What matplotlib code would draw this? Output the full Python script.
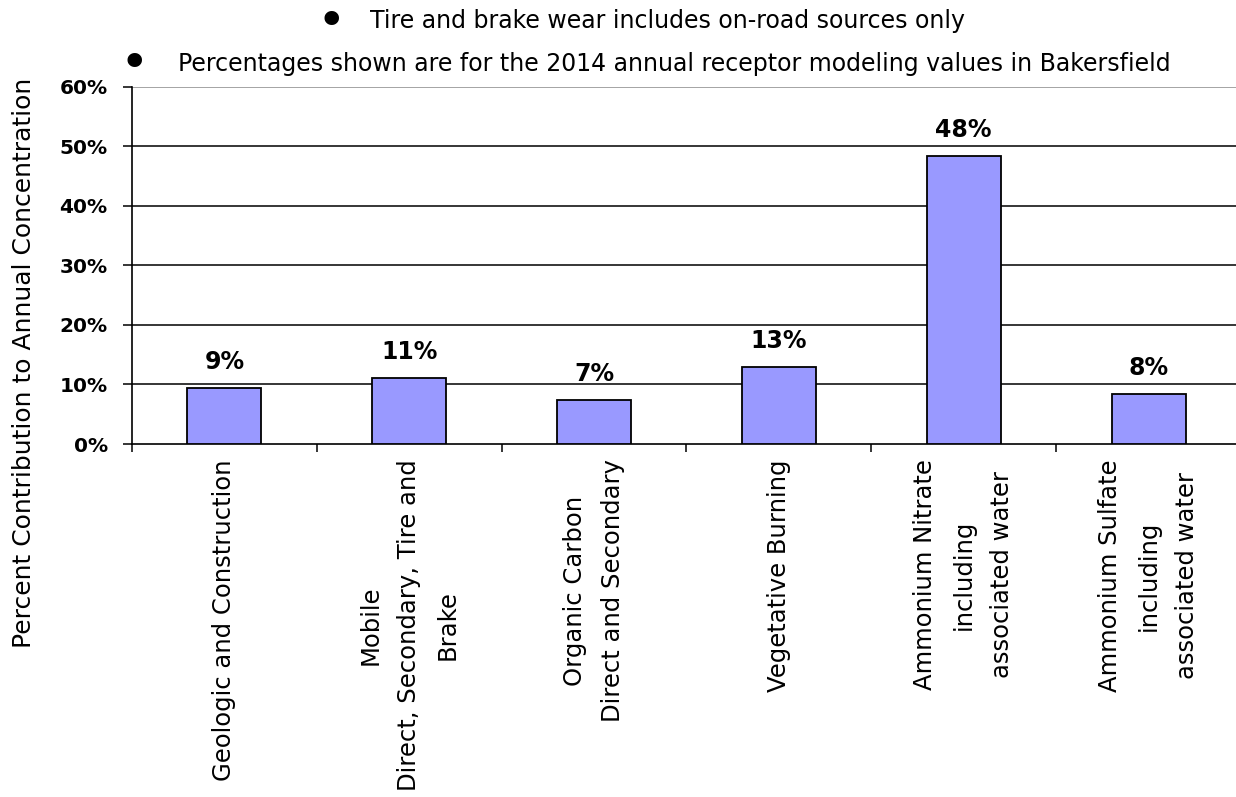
import matplotlib
matplotlib.use("Agg")
import matplotlib.pyplot as plt
import numpy as np

categories = [
    "Geologic and Construction",
    "Mobile\nDirect, Secondary, Tire and\nBrake",
    "Organic Carbon\nDirect and Secondary",
    "Vegetative Burning",
    "Ammonium Nitrate\nincluding\nassociated water",
    "Ammonium Sulfate\nincluding\nassociated water",
]
values = [9.4, 11.0, 7.4, 12.9, 48.4, 8.4]
value_labels = ["9%", "11%", "7%", "13%", "48%", "8%"]
y_ticks = [0, 10, 20, 30, 40, 50, 60]
y_tick_labels = ["0%", "10%", "20%", "30%", "40%", "50%", "60%"]
notes = [
    "Tire and brake wear includes on-road sources only",
    "Percentages shown are for the 2014 annual receptor modeling values in Bakersfield",
]
y_label = "Percent Contribution to Annual Concentration"

plt.rcParams['font.family'] = ['DejaVu Sans']

W, H = 1236, 797
fig = plt.figure(figsize=(W / 100, H / 100), dpi=100)
ax_left = 132 / W
ax_right = 1241 / W
ax_bottom = (H - 444) / H
ax_top = (H - 86.7) / H
ax = fig.add_axes([ax_left, ax_bottom, ax_right - ax_left, ax_top - ax_bottom])

x = np.arange(len(categories))
ax.bar(x, values, width=0.40, color="#9999FF", edgecolor="black", linewidth=1.3, zorder=3)

for xi, v, lab in zip(x, values, value_labels):
    ax.annotate(lab, (xi, v), xytext=(0, 19), textcoords="offset pixels",
                ha="center", va="baseline", fontsize=17, fontweight="bold", zorder=4)

ax.set_xlim(-0.5, len(categories) - 0.5)
ax.set_ylim(0, 60)

# gridlines
for t in y_ticks[1:]:
    ax.axhline(t, color="black" if t < 60 else "#8c8c8c", linewidth=1.1, zorder=1)

ax.set_yticks(y_ticks)
ax.set_yticklabels(y_tick_labels, fontsize=14.5, fontweight="bold")
ax.tick_params(axis="y", direction="out", length=6.5, width=1.1, pad=11)

ax.set_xticks(x)
ax.set_xticklabels(categories, rotation=90, ha="center", va="top",
                   multialignment="center", linespacing=1.75, fontsize=17.5)
ax.tick_params(axis="x", which="major", length=0, pad=11)
ax.set_xticks(np.arange(-0.5, len(categories) + 0.5, 1.0), minor=True)
ax.tick_params(axis="x", which="minor", direction="out", length=6, width=1.1)

for s in ["top", "right"]:
    ax.spines[s].set_visible(False)
ax.spines["left"].set_linewidth(1.2)
ax.spines["bottom"].set_linewidth(1.2)

# y label
fig.text(24 / W, 1 - 363 / H, y_label, rotation=90, ha="center", va="center", fontsize=18)

# notes with bullets
fig.text(331 / W, 1 - 22 / H, "\u2022", ha="center", va="center", fontsize=36)
fig.text(370 / W, 1 - 28 / H, notes[0], ha="left", va="baseline", fontsize=17)
fig.text(134 / W, 1 - 64 / H, "\u2022", ha="center", va="center", fontsize=36)
fig.text(178 / W, 1 - 70.7 / H, notes[1], ha="left", va="baseline", fontsize=17)

fig.savefig("out.png", dpi=100)
